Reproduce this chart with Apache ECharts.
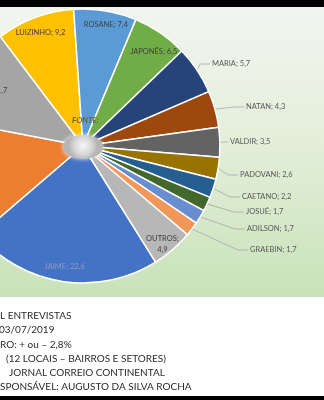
<!DOCTYPE html>
<html>
<head>
<meta charset="utf-8">
<script src="https://cdn.jsdelivr.net/npm/echarts@6/dist/echarts.min.js"></script>
<style>
  html, body { margin: 0; padding: 0; width: 324px; height: 400px; overflow: hidden; background: #000; }
  #plotBg { position: absolute; left: 0; top: 7px; width: 324px; height: 290px;
            background: linear-gradient(180deg, #f3f5f0 0%, #e4efdb 45%, #c9e2b9 100%); }
  #noteBg { position: absolute; left: 0; top: 297px; width: 324px; height: 99px; background: #fff; }
  #chart { position: absolute; left: 0; top: 0; width: 324px; height: 400px; }
</style>
</head>
<body>
<div id="plotBg"></div>
<div id="noteBg"></div>
<div id="chart"></div>
<script>
// Poll results (%), in plotting order
const candidates = ['JAIME', 'CANDIDATO A', 'CANDIDATO B', 'LUIZINHO', 'ROSANE', 'JAPONÊS', 'MARIA',
                    'NATAN', 'VALDIR', 'PADOVANI', 'CAETANO', 'JOSUÉ', 'ADILSON', 'GRAEBIN', 'OUTROS'];
const shares = [22.6, 14.3, 11.7, 9.2, 7.4, 6.5, 5.7, 4.3, 3.5, 2.6, 2.2, 1.7, 1.7, 1.7, 4.9];

// Footnote lines
const notes = [
  'L ENTREVISTAS',
  '03/07/2019',
  'RO: + ou – 2,8%',
  '(12 LOCAIS – BAIRROS E SETORES)',
  'JORNAL CORREIO CONTINENTAL',
  'SPONSÁVEL: AUGUSTO DA SILVA ROCHA'
];

const palette = ['#4472C4', '#ED7D31', '#A5A5A5', '#FFC000', '#5B9BD5', '#70AD47', '#264478',
                 '#9E480E', '#636363', '#997300', '#255E91', '#43682B', '#698ED0', '#F1975A', '#B7B7B7'];

// Which labels sit on the slice, which sit outside with a leader line
const insideNames = ['JAIME', 'CANDIDATO B', 'LUIZINHO', 'ROSANE', 'JAPONÊS', 'OUTROS'];
const calloutSpots = {
  'MARIA': [212, 64], 'NATAN': [246, 107], 'VALDIR': [230, 142], 'PADOVANI': [240, 175],
  'CAETANO': [242, 197], 'JOSUÉ': [246, 212], 'ADILSON': [247, 229], 'GRAEBIN': [250, 250]
};
const insideNudge = { 'JAPONÊS': [2, 6], 'OUTROS': [0, 6], 'CANDIDATO B': [20, 9], 'ROSANE': [3, -2] };

const FONT = 'Lato, "Open Sans", sans-serif';
const fmt = v => v.toFixed(1).replace('.', ',');

function labelText(p) {
  if (p.name === 'OUTROS') return p.name + ';\n' + fmt(p.value);
  if (p.name === 'CANDIDATO B') return fmt(p.value);
  return p.name + '; ' + fmt(p.value);
}

const CENTER = [83, 146];
const R = 137;
const START = -58;

const mainData = candidates.map((n, i) => ({
  name: n, value: shares[i],
  itemStyle: { color: palette[i] },
  label: { show: !!calloutSpots[n] },
  labelLine: { show: !!calloutSpots[n] }
}));

const ringData = candidates.map((n, i) => ({
  name: n, value: shares[i],
  label: {
    show: insideNames.indexOf(n) >= 0,
    color: n === 'JAIME' ? '#8d9bc4' : '#3f3f3f'
  }
}));

const chart = echarts.init(document.getElementById('chart'), null, { renderer: 'canvas' });

const notesGraphic = notes.map((t, i) => ({
  type: 'text',
  left: [0, -1, 0, 6, 9, 0][i],
  top: 311 + i * 14.2,
  z: 10,
  style: { text: t, fill: '#2b2b2b', font: '10px ' + FONT }
}));

chart.setOption({
  backgroundColor: 'transparent',
  animation: false,
  graphic: [
    {
      type: 'ellipse', z: 100,
      shape: { cx: 83, cy: 147, rx: 20, ry: 12 },
      style: {
        fill: new echarts.graphic.RadialGradient(0.5, 0.45, 0.6, [
          { offset: 0, color: '#f7f7f7' }, { offset: 0.6, color: '#d8d8d8' }, { offset: 1, color: '#b5b5b5' }
        ]),
        shadowBlur: 4, shadowColor: 'rgba(255,255,255,0.9)'
      }
    },
    {
      type: 'text', z: 101, left: 72, top: 116,
      style: { text: 'FONTE:', fill: '#6d6330', font: 'italic bold 8px ' + FONT }
    }
  ].concat(notesGraphic),
  series: [
    {
      type: 'pie',
      center: CENTER,
      radius: R,
      startAngle: START,
      clockwise: true,
      avoidLabelOverlap: false,
      itemStyle: { borderColor: '#ffffff', borderWidth: 1.5 },
      label: {
        position: 'outside', formatter: labelText,
        color: '#595959', fontFamily: FONT, fontSize: 7.5
      },
      labelLine: { lineStyle: { color: '#a6a6a6', width: 0.8 }, length: 8, length2: 8 },
      labelLayout: function (p) {
        const spot = calloutSpots[candidates[p.dataIndex]];
        if (!spot || !p.labelLinePoints) return {};
        const s = p.labelLinePoints[0];
        const end = [spot[0] - 2, spot[1]];
        const bx = Math.max(s[0] + 3, spot[0] - 12);
        return {
          x: spot[0], y: spot[1], align: 'left', verticalAlign: 'middle',
          labelLinePoints: [s, [bx, spot[1]], end]
        };
      },
      emphasis: { disabled: true },
      data: mainData
    },
    {
      // transparent ring that carries the on-slice labels near the rim
      type: 'pie',
      center: CENTER,
      radius: [100, R],
      startAngle: START,
      clockwise: true,
      silent: true,
      z: 5,
      avoidLabelOverlap: false,
      itemStyle: { color: 'rgba(0,0,0,0)', borderWidth: 0 },
      label: {
        position: 'inside', formatter: labelText, align: 'center',
        fontFamily: FONT, fontSize: 7.5, lineHeight: 11
      },
      labelLine: { show: false },
      labelLayout: function (p) {
        const d = insideNudge[candidates[p.dataIndex]];
        return d ? { dx: d[0], dy: d[1] } : {};
      },
      emphasis: { disabled: true },
      data: ringData
    }
  ]
});
</script>
</body>
</html>
